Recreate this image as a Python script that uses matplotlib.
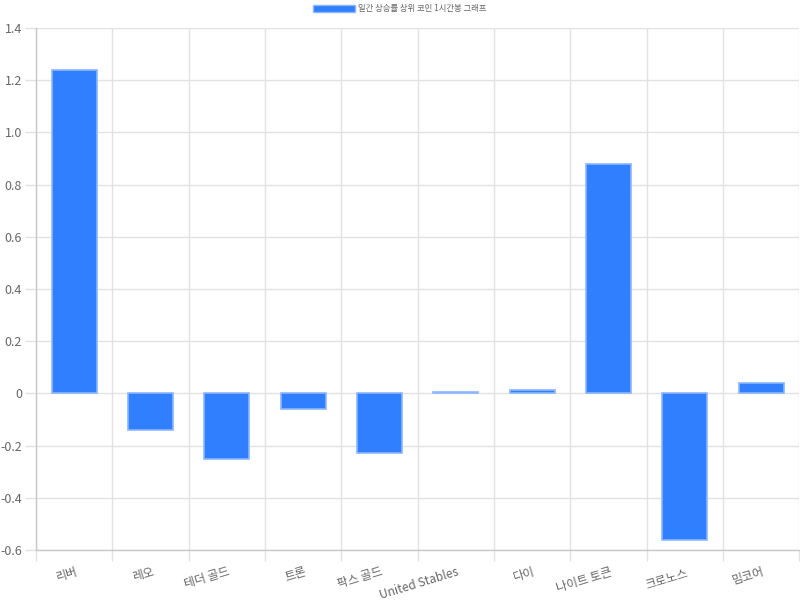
import numpy as np
import matplotlib
matplotlib.use('Agg')
import matplotlib.pyplot as plt
from matplotlib.patches import Patch
from matplotlib.transforms import ScaledTranslation

plt.rcParams['font.family'] = ['Noto Sans CJK KR', 'DejaVu Sans']

coins = ['리버', '레오', '테더 골드', '트론', '팍스 골드', 'United Stables',
         '다이', '나이트 토큰', '크로노스', '밈코어']
changes = [1.24, -0.14, -0.25, -0.06, -0.23, 0.006, 0.013, 0.88, -0.56, 0.04]
series_name = '일간 상승률 상위 코인 1시간봉 그래프'
y_ticks = [-0.6, -0.4, -0.2, 0, 0.2, 0.4, 0.6, 0.8, 1.0, 1.2, 1.4]

bar_color = '#2f7fff'
edge_color = '#8cb6ff'
grid_color = '#e2e2e2'
text_color = '#666666'

fig = plt.figure(figsize=(8, 6), dpi=100)
ax = fig.add_axes([0.045, 0.0833, 0.954, 0.87])

x = np.arange(len(coins))
ax.bar(x, changes, width=0.59, color=bar_color, edgecolor=edge_color,
       linewidth=1.2, zorder=3)

ax.set_xlim(-0.5, len(coins) - 0.5)
ax.set_ylim(-0.6, 1.4)

# grid lines on category boundaries, labels on centres
ax.set_xticks(np.arange(len(coins) + 1) - 0.5)
ax.set_xticklabels([])
ax.set_xticks(x, minor=True)
ax.set_xticklabels(coins, minor=True, rotation=17, ha='right',
                   rotation_mode='anchor', fontsize=8.6, color=text_color,
                   fontweight='light')
ax.tick_params(axis='x', which='major', length=8, color=grid_color, width=1)
ax.tick_params(axis='x', which='minor', length=0, pad=11)
# labels end a touch right of the category centre
off = ScaledTranslation(1 / 100, 0, fig.dpi_scale_trans)
for lbl in ax.get_xticklabels(minor=True):
    lbl.set_transform(lbl.get_transform() + off)

ax.set_yticks(y_ticks)
ax.set_yticklabels(['0' if v == 0 else f'{v:.1f}' for v in y_ticks],
                   fontsize=9, color=text_color, fontweight='light')
ax.tick_params(axis='y', length=8, color=grid_color, width=1, pad=2)

ax.grid(True, which='major', color=grid_color, linewidth=1, zorder=0)
for side in ['top', 'right']:
    ax.spines[side].set_visible(False)
for side in ['left', 'bottom']:
    ax.spines[side].set_color('#c8c8c8')
    ax.spines[side].set_linewidth(1)

handle = Patch(facecolor=bar_color, edgecolor=edge_color)
fig.legend(handles=[handle], labels=[series_name], loc='upper center',
           bbox_to_anchor=(0.5, 1.005), frameon=False, fontsize=6,
           handlelength=5.0, handleheight=0.9, handletextpad=0.4,
           labelcolor=text_color)

fig.savefig('out.png', dpi=100)
